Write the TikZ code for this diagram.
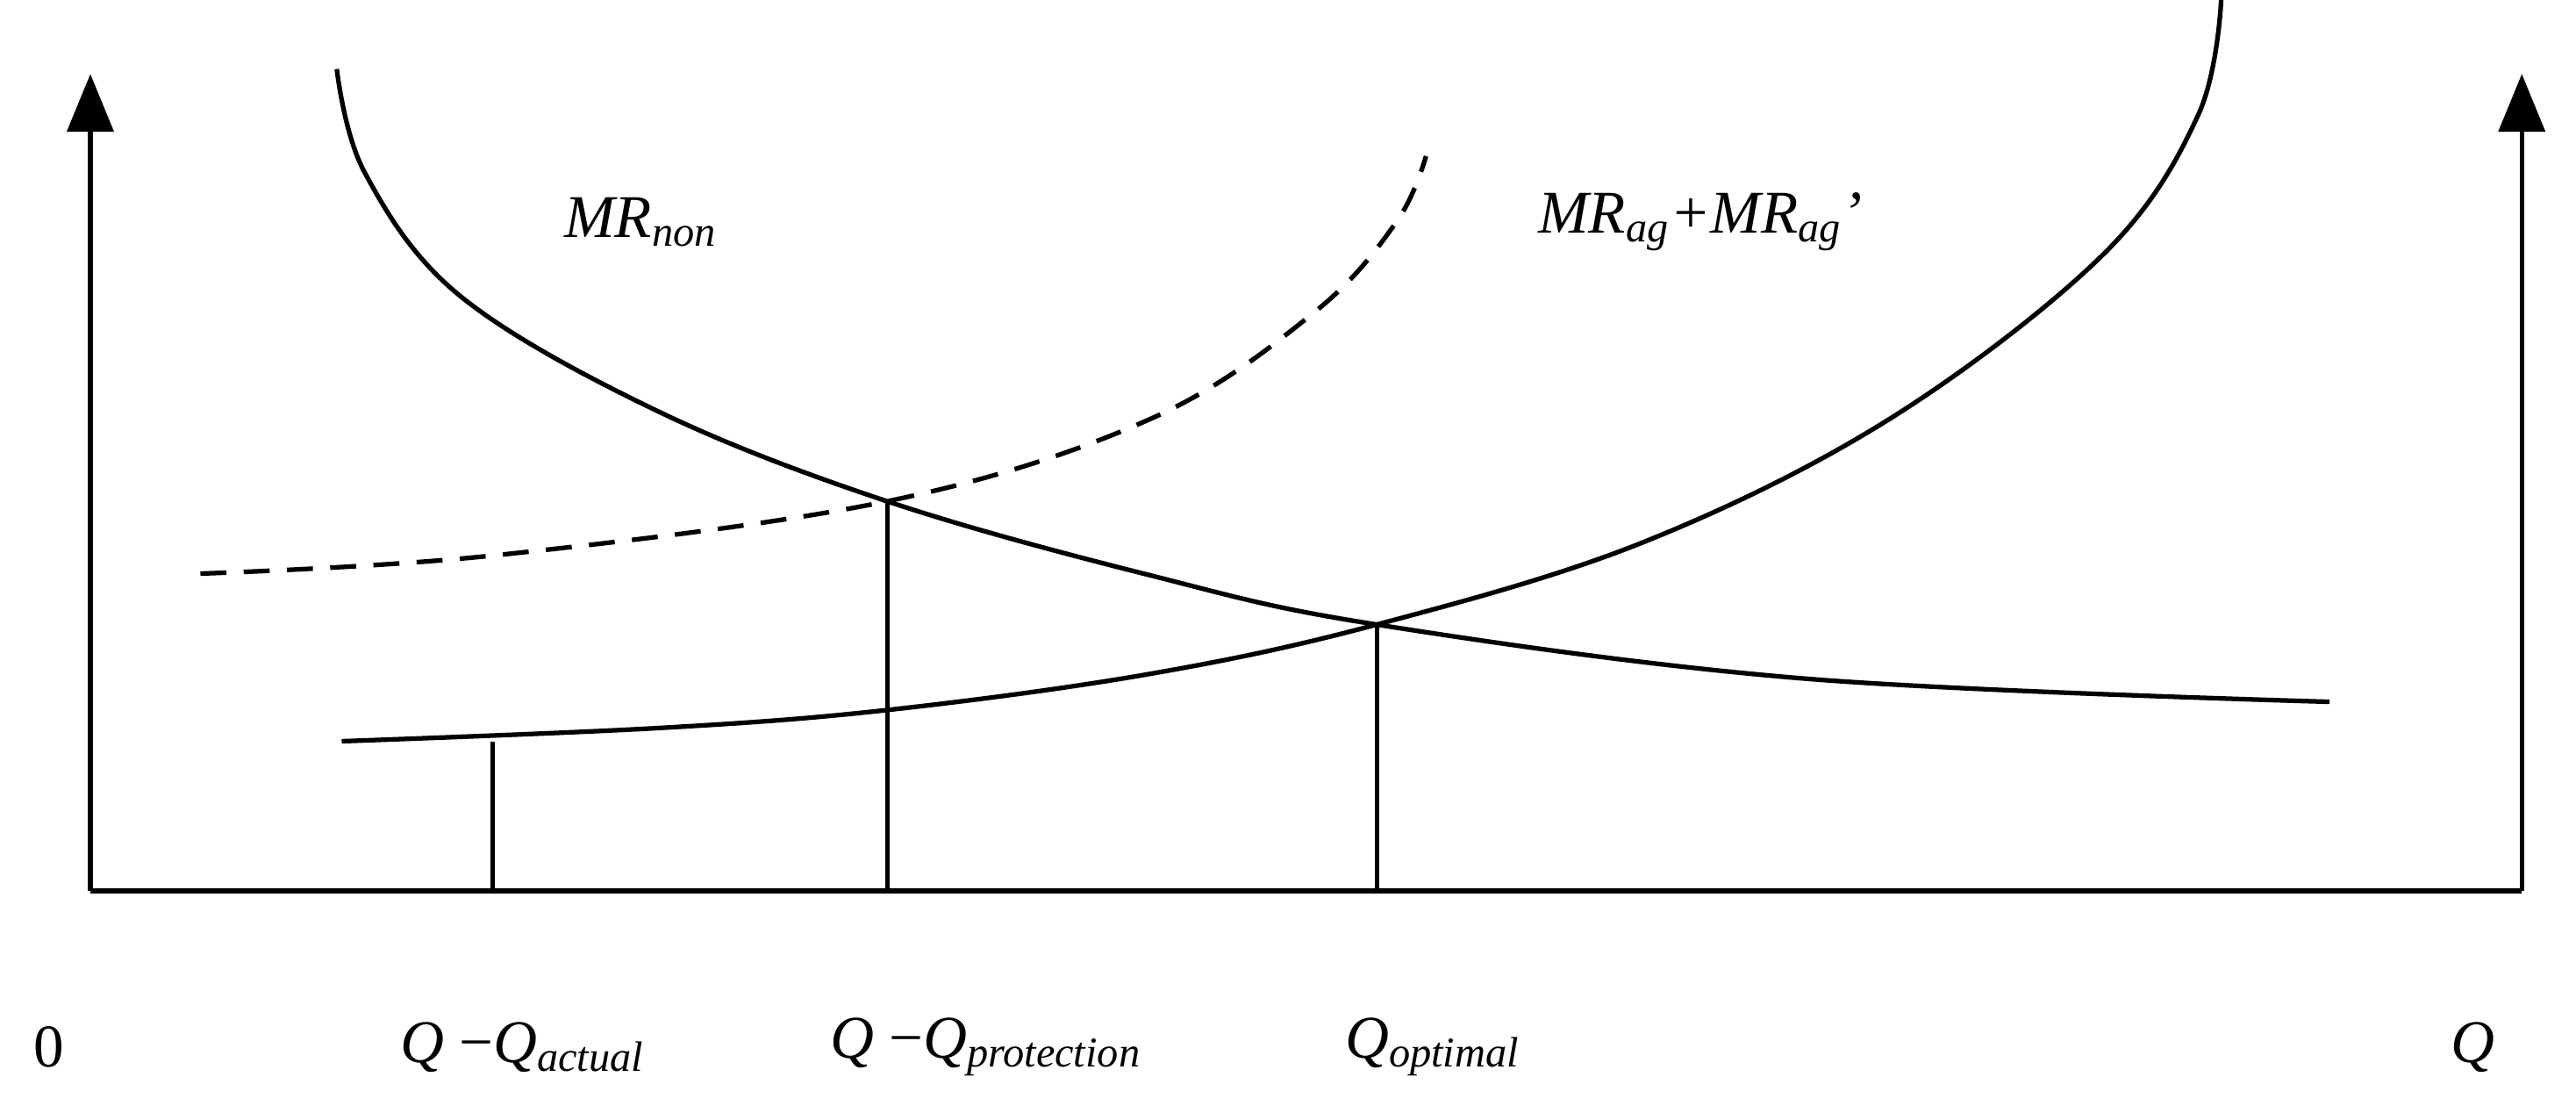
\documentclass[tikz,border=0pt]{standalone}
\usepackage{fontspec}
\setmainfont{Liberation Serif}
\usetikzlibrary{arrows.meta}
\begin{document}
\begin{tikzpicture}[x=0.02cm,y=-0.02cm,
  ln/.style={line width=1.6pt},
  lab/.style={font=\fontsize{21}{25}\selectfont\itshape, inner sep=0pt},
  ax/.style={ln,-{Triangle[length=20pt,width=16pt]}}]
\useasboundingbox (0,0) rectangle (1568,681);
\coordinate (o) at (55,542);
\coordinate (yt) at (55,45);
\coordinate (r) at (1535,542);
\coordinate (rt) at (1535,45);
\draw[ax] (o) -- (yt);
\draw[ax] (r) -- (rt);
\draw[ln] (o) -- (r);
\draw[ln] plot[smooth,tension=0.6] coordinates {(205,42) (222,105) (280,180) (400,250) (540,305) (700,350) (838,380) (1100,413) (1418,427)};
\draw[ln] plot[smooth,tension=0.6] coordinates {(208,451) (400,443) (540,432) (700,410) (838,380) (1000,330) (1150,255) (1280,155) (1338,70) (1352,0)};
\draw[ln,dashed,dash pattern=on 9pt off 6pt] plot[smooth,tension=0.6] coordinates {(122,349) (300,338) (540,305) (700,255) (800,190) (850,135) (868,95)};
\coordinate (a1) at (300,542); \coordinate (a2) at (300,451);
\coordinate (b1) at (540,542); \coordinate (b2) at (540,305);
\coordinate (c1) at (838,542); \coordinate (c2) at (838,380);
\draw[ln] (a1) -- (a2); \draw[ln] (b1) -- (b2); \draw[ln] (c1) -- (c2);
\node[lab] (l1) at (390,135) {MR\textsubscript{non}};
\node[lab] (l2) at (1035,135) {MR\textsubscript{ag}+MR\textsubscript{ag}’};
\node[lab,font=\fontsize{21}{25}\selectfont] (l0) at (30,637) {0};
\node[lab] (l3) at (318,637) {Q \textup{−}Q\textsubscript{actual}};
\node[lab] (l4) at (600,637) {Q \textup{−}Q\textsubscript{protection}};
\node[lab] (l5) at (872,637) {Q\textsubscript{optimal}};
\node[lab] (l6) at (1505,637) {Q};
\end{tikzpicture}
\end{document}
